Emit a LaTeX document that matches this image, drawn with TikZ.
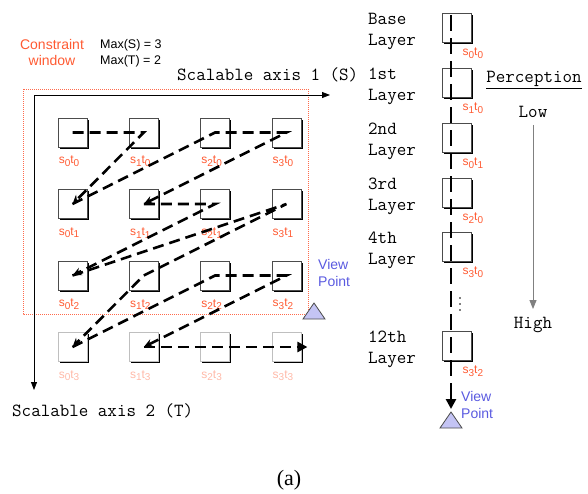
\documentclass[tikz,border=0pt]{standalone}
\usepackage{fontspec}
\setmainfont{Liberation Sans}
\newfontfamily\serfont{Liberation Serif}
\usetikzlibrary{arrows.meta,shadows,calc}
\definecolor{lblred}{HTML}{FF5A32}
\definecolor{lblpale}{HTML}{FFB9A8}
\definecolor{winred}{HTML}{FF6A4C}
\definecolor{vpblue}{HTML}{5A5AE0}
\definecolor{vpfill}{HTML}{C4C4F4}
\newcommand{\stlabel}[2]{s\raisebox{-2.5pt}{\fontsize{10}{10}\selectfont #1}t\raisebox{-2.5pt}{\fontsize{10}{10}\selectfont #2}}
\tikzset{
  box/.style={draw=black!70, fill=white, minimum size=29pt, inner sep=0pt, line width=0.8pt,
    drop shadow={shadow xshift=1.8pt, shadow yshift=-1.8pt, fill=black, opacity=1}},
  fadebox/.style={box, draw=black!25},
  lbl/.style={anchor=west, inner sep=0pt, text=lblred, font=\fontsize{12}{12}\selectfont},
  fadelbl/.style={lbl, text=lblpale},
  cour/.style={inner sep=0pt, font=\ttfamily\fontsize{18.5}{21}\selectfont, align=left},
  scan/.style={line width=2.6pt, dash pattern=on 11pt off 6pt, -{Stealth[length=9pt,width=8pt]}},
  viewpt/.style={draw=black!70, fill=vpfill, line width=0.8pt},
  vptext/.style={inner sep=0pt, anchor=west, text=vpblue, align=left, font=\fontsize{14}{17}\selectfont}
}
\begin{document}
\begin{tikzpicture}[x=1pt, y=-1pt]
  \useasboundingbox (0,0) rectangle (588,493);

  % constraint window
  \draw[winred, line width=0.7pt, dash pattern=on 1pt off 1pt] (23,89) rectangle (308,314);
  \node[inner sep=0pt, align=center, text=lblred, font=\fontsize{14}{16}\selectfont] (window) at (52,52) {Constraint\\window};
  \node[inner sep=0pt, anchor=west, align=left, font=\fontsize{12.5}{16}\selectfont] (maxst) at (100,53) {Max(S) = 3\\Max(T) = 2};

  % axis
  \coordinate (origin) at (34,95);
  \coordinate (s axis) at (330,95);
  \coordinate (t axis) at (34,390);
  \draw[line width=0.8pt, {Triangle[length=8pt,width=6pt]}-{Triangle[length=8pt,width=6pt]}]
    (s axis) -- (origin) -- (t axis);
  \node[cour, anchor=west] (s label) at (177,75) {Scalable axis 1 (S)};
  \node[cour, anchor=west] (t label) at (12,411) {Scalable axis 2 (T)};

  % grid of boxes
  \foreach \j/\bs/\ls in {0/box/lbl,1/box/lbl,2/box/lbl,3/fadebox/fadelbl}
    \foreach \i in {0,...,3} {
      \node[\bs] (s\i t\j) at (72.5+71.3*\i, 132.5+71.5*\j) {};
      \node[\ls] (n\i t\j) at ($(s\i t\j.south west)+(1,14)$) {\stlabel{\i}{\j}};
    }

  % scan order
  \draw[scan] (s0t0.center) -- (s1t0.center) -- (s0t1.center);
  \draw[scan] (s0t1.center) -- (s2t0.center) -- (s3t0.center) -- (s1t1.center);
  \draw[scan] (s1t1.center) -- (s2t1.center) -- (s0t2.center);
  \draw[scan] (s0t2.center) -- (s3t1.center) -- (s1t2.center) -- (s0t3.center);
  \draw[scan] (s0t3.center) -- (s2t2.center) -- (s3t2.center) -- (s1t3.center);
  \coordinate (scan end) at ($(s3t3.center)+(21,0)$);
  \draw[scan, -{Triangle[length=10pt,width=10pt]}] (s1t3.center) -- (scan end);

  % view point
  \draw[viewpt] (303,319) coordinate (vp a) -- (325,319) -- (314,303) -- cycle;
  \node[vptext] (vp label) at (318,273) {View\\Point};

  % layers
  \foreach \n/\y/\txt/\s/\t in {base/27.5/Base/0/0, l1/82.5/1st/1/0, l2/137.5/2nd/0/1,
                               l3/192.5/3rd/2/0, l4/246.5/4th/3/0, l12/345.5/12th/3/2} {
    \node[box] (\n) at (456.5,\y) {};
    \node[cour, anchor=west] (\n txt) at (368,\y+4) {\txt\\Layer};
    \node[lbl] (\n lbl) at ($(\n.south east)+(-9,11)$) {\stlabel{\s}{\t}};
  }
  \coordinate (layer top) at (451,15);
  \coordinate (layer end) at (451,409);
  \draw[line width=2.6pt, dash pattern=on 16pt off 7pt, -{Triangle[length=10pt,width=10pt]}]
    (layer top) -- (layer end);
  \foreach \d in {298,304,310}
    \fill (460,\d) circle (0.9pt);
  \draw[viewpt] (440,428) -- (462,428) -- (451,412) -- cycle;
  \node[vptext] (vp label 2) at (461,405) {View\\Point};

  % perception
  \node[cour] (perception) at (534,80) {\underline{Perception}};
  \node[cour] (low) at (533,112) {Low};
  \node[cour] (high) at (533,325) {High};
  \draw[black!50, line width=1pt, -{Triangle[length=9pt,width=7pt]}, shorten <=7pt, shorten >=8pt]
    (low) -- (high);

  % caption
  \node[inner sep=0pt, font=\serfont\fontsize{22}{22}\selectfont] (caption) at (289,480) {(a)};
\end{tikzpicture}
\end{document}
